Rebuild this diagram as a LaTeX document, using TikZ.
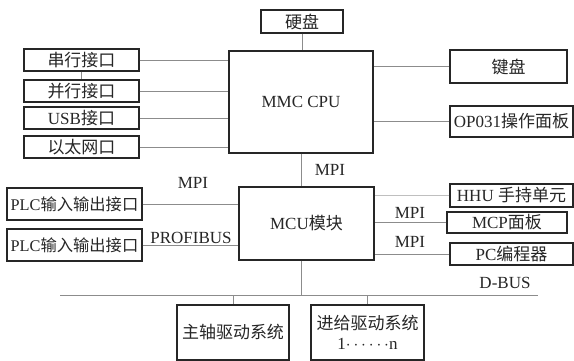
\documentclass[tikz,border=0pt]{standalone}
\usepackage{fontspec}
\setmainfont{Liberation Serif}
\newfontfamily\cjk{Noto Sans CJK SC}
\begin{document}
\begin{tikzpicture}[x=1pt,y=-1pt,
  box/.style={draw=black!85,line width=1.3pt,inner sep=0pt,font=\fontsize{17}{19}\selectfont,text=black!85},
  conn/.style={draw=black!45,line width=0.8pt},
  lbl/.style={inner sep=0pt,font=\fontsize{17}{19}\selectfont,text=black!85}]
\useasboundingbox[fill=white] (0,0) rectangle (574,361);
% MMC level
\node[box,minimum width=82pt,minimum height=23pt] (hd) at (302,21.5) {\cjk 硬盘};
\node[box,minimum width=144pt,minimum height=102pt] (mmc) at (301,102) {MMC CPU};
\node[box,minimum width=115pt,minimum height=22pt] (s1) at (81.5,60) {\cjk 串行接口};
\node[box,minimum width=115pt,minimum height=22pt] (s2) at (81.5,91) {\cjk 并行接口};
\node[box,minimum width=115pt,minimum height=22pt] (s3) at (81.5,118) {USB{\cjk 接口}};
\node[box,minimum width=115pt,minimum height=22pt] (s4) at (81.5,147) {\cjk 以太网口};
\node[box,minimum width=117pt,minimum height=33pt] (kb) at (508.5,66.5) {\cjk 键盘};
\node[box,minimum width=123pt,minimum height=31pt] (op) at (511.5,121.5) {OP031{\cjk 操作面板}};
% MCU level
\node[box,minimum width=135pt,minimum height=73pt] (mcu) at (306.5,223.5) {MCU{\cjk 模块}};
\node[box,minimum width=135pt,minimum height=32pt,font=\fontsize{16.3}{19}\selectfont] (p1) at (74.5,204) {PLC{\cjk 输入输出接口}};
\node[box,minimum width=135pt,minimum height=32pt,font=\fontsize{16.3}{19}\selectfont] (p2) at (74.5,245) {PLC{\cjk 输入输出接口}};
\node[box,minimum width=123pt,minimum height=23pt] (hhu) at (511.5,195.5) {HHU {\cjk 手持单元}};
\node[box,minimum width=120pt,minimum height=21pt] (mcp) at (507,222.5) {MCP{\cjk 面板}};
\node[box,minimum width=123pt,minimum height=22pt] (pc) at (511.5,254) {PC{\cjk 编程器}};
% drives
\node[box,minimum width=112pt,minimum height=55pt] (sp) at (233,332.5) {\cjk 主轴驱动系统};
\node[box,minimum width=113pt,minimum height=55pt,align=center] (fd) at (367.5,332.5) {{\cjk 进给驱动系统}\\[1pt]1$\cdots\cdots$n};
% bus
\coordinate (bl) at (60,295);
\coordinate (br) at (538,295);
% labels
\node[lbl] (l1) at (330,170) {MPI};
\node[lbl] (l2) at (193,183) {MPI};
\node[lbl] (l3) at (191,238) {PROFIBUS};
\node[lbl] (l4) at (410,213) {MPI};
\node[lbl] (l5) at (410,242) {MPI};
\node[lbl] (l6) at (505,283) {D-BUS};
% connectors
\draw[conn] (s1) -- (s2);
\foreach \n in {s1,s2,s3,s4} \draw[conn] (\n.east) -- (\n.east -| mmc.west);
\draw[conn] (hd.south) -- (hd.south |- mmc.north);
\draw[conn] (kb.west) -- (kb.west -| mmc.east);
\draw[conn] (op.west) -- (op.west -| mmc.east);
\draw[conn] (mmc.south) -- (mmc.south |- mcu.north);
\draw[conn] (p1.east) -- (p1.east -| mcu.west);
\draw[conn] (p2.east) -- (p2.east -| mcu.west);
\draw[conn,draw=black!25] (hhu.west) -- (hhu.west -| mcu.east);
\draw[conn] (mcp.west) -- (mcp.west -| mcu.east);
\draw[conn] (pc.west) -- (pc.west -| mcu.east);
\draw[conn] (bl) -- (br);
\draw[conn] (mmc.south |- mcu.south) -- (mmc.south |- bl);
\draw[conn] (sp.north |- bl) -- (sp.north);
\draw[conn] (fd.north |- bl) -- (fd.north);
\end{tikzpicture}
\end{document}
